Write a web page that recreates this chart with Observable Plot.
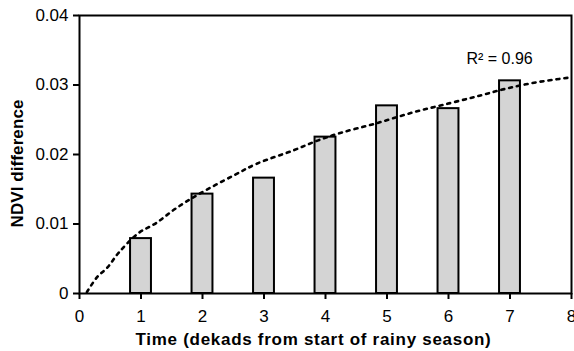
<!DOCTYPE html>
<html>
<head>
<meta charset="utf-8">
<script src="https://cdn.jsdelivr.net/npm/d3@7"></script>
<script src="https://cdn.jsdelivr.net/npm/@observablehq/plot@0.6"></script>
<style>
  html, body { margin: 0; padding: 0; background: #fff; }
  svg { display: block; }
</style>
</head>
<body>
<div id="chart"></div>
<script>
// Bars: NDVI difference per dekad
const dekads = [1, 2, 3, 4, 5, 6, 7];
const ndviDiff = [0.0079, 0.0143, 0.0166, 0.0225, 0.0270, 0.0266, 0.0306];

// Dotted trend line
const trendX = [0.12, 0.29, 0.45, 0.64, 0.96, 1.24, 1.56, 1.94, 2.51, 2.89, 3.48, 3.87, 4.24, 4.79, 5.44, 6.03, 6.52, 6.95, 7.44, 8.0];
const trendY = [0.0002, 0.0024, 0.0037, 0.0059, 0.0087, 0.0101, 0.0122, 0.0143, 0.0170, 0.0187, 0.0206, 0.0220, 0.0231, 0.0244, 0.0261, 0.0274, 0.0285, 0.0295, 0.0304, 0.0311];

const xTicks = [0, 1, 2, 3, 4, 5, 6, 7, 8];
const yTicks = [0, 0.01, 0.02, 0.03, 0.04];
const yTickLabels = ["0", "0.01", "0.02", "0.03", "0.04"];
const annotation = [{x: 6.83, y: 0.0337, label: "R² = 0.96"}];

const bars = dekads.map((d, i) => ({x: d, y: ndviDiff[i]}));
const trend = trendX.map((x, i) => ({x, y: trendY[i]}));
const halfWidth = 0.17;

const chart = Plot.plot({
  width: 574,
  height: 351,
  marginLeft: 79,
  marginRight: 3,
  marginTop: 15,
  marginBottom: 58,
  style: {fontFamily: "'Liberation Sans', Arial, sans-serif", fontSize: "16px", color: "#000", background: "#fff"},
  x: {domain: [0, 8]},
  y: {domain: [0, 0.04]},
  marks: [
    Plot.rectY(bars, {x1: d => d.x - halfWidth, x2: d => d.x + halfWidth, y1: 0, y2: "y", fill: "#d4d4d4", stroke: "#000", strokeWidth: 2}),
    Plot.line(trend, {x: "x", y: "y", stroke: "#000", strokeWidth: 2.6, strokeDasharray: "3,5", curve: "catmull-rom"}),
    Plot.frame({stroke: "#000", strokeWidth: 2}),
    Plot.axisX({ticks: xTicks, tickFormat: d => String(d), tickSize: 6, tickPadding: 10, fontSize: 17, strokeWidth: 2,
      label: "Time (dekads from start of rainy season)", labelAnchor: "center", labelArrow: "none", labelOffset: 51}),
    Plot.axisY({ticks: yTicks, tickFormat: (d, i) => yTickLabels[i], tickSize: 6, tickPadding: 5, fontSize: 17, strokeWidth: 2,
      label: "NDVI difference", labelAnchor: "center", labelArrow: "none", labelOffset: 69}),
    Plot.text(annotation, {x: "x", y: "y", text: "label", fontSize: 16, textAnchor: "middle", fill: "#000"})
  ]
});

document.getElementById("chart").appendChild(chart);

// bold axis titles, stretched to the reference widths
const fitTitle = (sel, target) => {
  chart.querySelectorAll(sel).forEach(t => {
    t.setAttribute("font-weight", "bold");
    const n = t.textContent.length;
    const w = t.getComputedTextLength();
    if (w < target) t.setAttribute("letter-spacing", ((target - w) / n).toFixed(2));
  });
};
fitTitle('[aria-label="x-axis label"] text', 356);
fitTitle('[aria-label="y-axis label"] text', 128);
// title offsets as in the reference
const xl = chart.querySelector('[aria-label="x-axis label"]');
if (xl) xl.setAttribute("transform", (xl.getAttribute("transform") || "") + " translate(-12,0)");
const yl = chart.querySelector('[aria-label="y-axis label"]');
if (yl) yl.setAttribute("transform", (yl.getAttribute("transform") || "") + " translate(0,9)");
</script>
</body>
</html>
